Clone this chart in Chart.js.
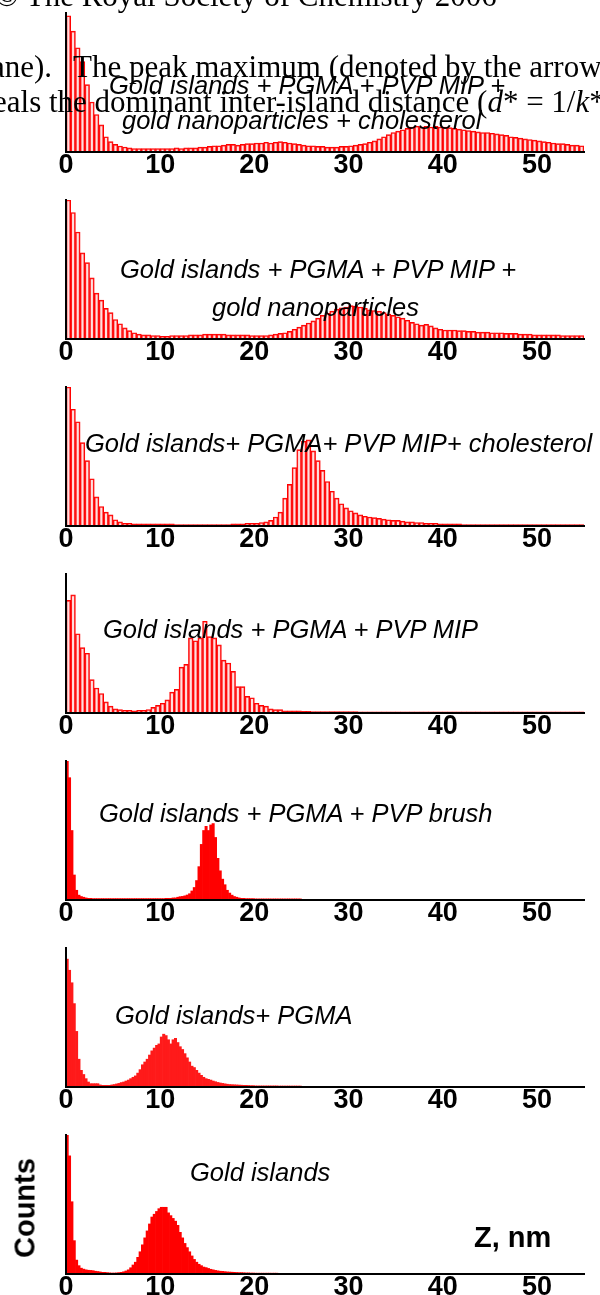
<!DOCTYPE html>
<html>
<head>
<meta charset="utf-8">
<script src="https://cdn.jsdelivr.net/npm/chart.js@4.4.1/dist/chart.umd.min.js"></script>
<style>
  body { margin: 0; background: #fff; }
  #page { position: relative; width: 600px; height: 1295px; overflow: hidden; background: #fff; }
  canvas { position: absolute; left: 0; }
  .txt { position: absolute; white-space: nowrap; color: #000; }
  .serif { font-family: "Liberation Serif", "Times New Roman", serif; font-size: 31px; line-height: 31px; }
  .label { font-family: "Liberation Sans", Arial, sans-serif; font-style: italic; font-size: 25.5px; line-height: 25.5px; }
  .axis { font-family: "Liberation Sans", Arial, sans-serif; font-weight: bold; font-size: 29px; line-height: 29px; }
</style>
</head>
<body>
<div id="page">
  <div class="txt serif" style="left:-5px; top:-20px;">© The Royal Society of Chemistry 2006</div>
  <div class="txt serif" style="left:-9px; top:51px;">ane).</div>
  <div class="txt serif" style="left:73px; top:51px;">The peak maximum (denoted by the arrow</div>
  <div class="txt serif" style="left:-7px; top:86px;">eals the dominant inter-island distance (<i>d</i>* = 1/<i>k</i>*</div>
</div>
<script>
// histogram bins, nm
const coarseBin = 0.5;
const fineBin = 0.25;
const xTicks = [0, 10, 20, 30, 40, 50];

// Gold islands + PGMA + PVP MIP + gold nanoparticles + cholesterol (0.5 nm bins, 0-55)
const countsMipNpChol = [
  98, 87, 75, 65, 48.5, 36, 27, 19.5, 11, 7.5,
  5.5, 4.3, 3.6, 3, 2.5, 2.5, 2.5, 2.5, 2.5, 2.5,
  2.5, 2.5, 2.5, 3, 2.5, 3, 3, 3, 3.5, 3.5,
  4, 4.5, 4.5, 5, 5.5, 5.5, 5, 5.5, 6, 6,
  6.5, 6.5, 7, 6.5, 7, 7.5, 7, 6.5, 6, 5.5,
  5, 4.5, 4.5, 4, 4, 3.5, 3.5, 3.5, 4, 4,
  4.5, 5, 5.5, 6, 7, 8, 9.5, 11, 12.5, 14,
  15, 16, 17, 18, 18.5, 18, 18.5, 18, 18.5, 18,
  18, 17.5, 17, 16.5, 16, 15.5, 15, 14.5, 14, 14,
  13.5, 13, 12.5, 12, 11, 10.5, 10, 9.5, 9, 8.5,
  8, 7.5, 7, 6.5, 6, 6, 5.5, 5, 5, 4.5
];
// Gold islands + PGMA + PVP MIP + gold nanoparticles
const countsMipNp = [
  100, 91, 77, 62, 55, 44, 33, 28, 22, 19,
  14, 11, 8, 6, 4.5, 3.5, 3, 3, 2.5, 2.5,
  2, 2, 2.5, 2.5, 2.5, 2.5, 3, 3, 3, 3.5,
  3.5, 3.5, 3.5, 3.5, 3, 3, 3, 3, 3, 2.5,
  2.5, 2.5, 2.5, 3, 3.5, 4, 4.5, 5.5, 7, 8.5,
  10, 11.5, 13, 15, 17, 18.5, 20, 21.5, 22.5, 23,
  24, 23.5, 23, 22, 21, 20.5, 20, 19, 18, 17,
  16, 15, 13.5, 12, 11, 10, 10.5, 9.5, 8, 7,
  6.5, 6.5, 6.5, 6, 6, 5.5, 5.5, 5, 5, 5,
  4.5, 4.5, 4.5, 4, 4, 4, 3.5, 3.5, 3.5, 3,
  3, 3, 3, 3, 3, 2.5, 2.5, 2.5, 2.5, 2.5
];
// Gold islands + PGMA + PVP MIP + cholesterol
const countsMipChol = [
  100, 84, 75, 60, 47, 34, 21, 14, 10, 8,
  4.5, 3, 2, 2, 1.5, 1.5, 1.5, 1.5, 1.5, 1.5,
  1.5, 1.5, 1.5, 1, 1, 1, 1, 1, 1, 1,
  1, 1, 1, 1, 1, 1.5, 1.5, 1.5, 2, 2,
  2, 2.5, 3, 4, 6.5, 10, 20, 30, 42, 55,
  61, 62, 54, 47, 40, 32, 25, 20, 16, 13,
  11, 9.5, 8, 7, 6.5, 6, 5.5, 5, 4.5, 4,
  4, 3.5, 3, 3, 2.5, 2.5, 2, 2, 2, 1.5,
  1.5, 1.5, 1.5, 1.5, 1, 1, 1, 1, 1, 1,
  1, 1, 1, 1, 1, 1, 1, 1, 1, 1,
  1, 1, 1, 1, 1, 1, 1, 1, 1, 1
];
// Gold islands + PGMA + PVP MIP
const countsMip = [
  81, 85, 57, 47, 43, 24, 18, 14, 8, 5,
  3, 2.4, 2, 2, 1.5, 2, 2, 2.5, 4, 5.5,
  7, 9.5, 15, 17, 33, 35, 54, 52, 54, 66,
  55, 54, 49, 38, 36, 30, 19, 19, 12, 11,
  7, 5.5, 5, 3, 2.4, 2.4, 1.5, 1.5, 1.5, 1.5,
  1.2, 1.2, 1, 1, 1, 1, 1, 1, 1, 1,
  1, 1, 0.8, 0.8, 0.8, 0.8, 0.8, 0.8, 0.8, 0.8,
  0.8, 0.8, 0.8, 0.8, 0.8, 0.8, 0.8, 0.8, 0.8, 0.8,
  0.8, 0.8, 0.8, 0.8, 0.8, 0.8, 0.8, 0.8, 0.8, 0.8,
  0.8, 0.8, 0.8, 0.8, 0.8, 0.8, 0.8, 0.8, 0.8, 0.8,
  0.8, 0.8, 0.8, 0.8, 0.8, 0.8, 0.8, 0.8, 0.8, 0.8
];
// Gold islands + PGMA + PVP brush (0.25 nm bins, 0-25)
const countsBrush = [
  100, 88, 50, 18, 7, 3.5, 2.5, 2, 1.5, 1.2,
  1.2, 1, 1, 1, 1, 1, 1, 1, 1, 1,
  1, 1, 1, 1, 1, 1, 1, 1, 1, 1,
  1, 1, 1, 1, 1, 1, 1, 1, 1, 1,
  1, 1, 1.2, 1.2, 1.2, 1.5, 1.5, 2, 2.4, 2.6,
  3, 3.6, 4.5, 6.5, 9, 14, 24, 40, 50, 53,
  50, 54, 55, 45, 30, 21, 15, 11, 7, 5,
  3.5, 2.5, 2, 1.5, 1.2, 1.2, 1, 1, 1, 1,
  0.8, 0.8, 0.8, 0.8, 0.8, 0.8, 0.8, 0.8, 0.8, 0.8,
  0.8, 0.8, 0.8, 0.8, 0.8, 0.8, 0.8, 0.8, 0.8, 0.8
];
// Gold islands + PGMA
const countsPgma = [
  92, 84, 75, 60, 40, 20, 12, 9, 6, 3.6,
  2.4, 2.4, 2.4, 2.4, 1.5, 1.2, 1.2, 1.2, 1.2, 1.5,
  1.8, 2.2, 2.6, 3.2, 3.6, 4.3, 5, 6, 7, 8,
  10, 12.5, 16, 18, 20, 23, 26, 28, 30, 31,
  36, 38, 37, 34, 31, 34, 35, 32, 29, 27,
  24, 21, 18, 15, 14, 12, 10, 8.4, 7, 6,
  5.5, 5, 4.3, 3.8, 3.3, 2.9, 2.6, 2.3, 2, 1.8,
  1.7, 1.6, 1.5, 1.4, 1.3, 1.2, 1.2, 1.1, 1, 1,
  0.8, 0.8, 0.8, 0.8, 0.8, 0.8, 0.8, 0.8, 0.8, 0.8,
  0.7, 0.7, 0.7, 0.7, 0.7, 0.7, 0.7, 0.7, 0.7, 0.7
];
// Gold islands
const countsIslands = [
  100, 85, 52, 24, 10, 6, 4.2, 3.5, 3, 2.7,
  2.6, 2.4, 2, 1.8, 1.5, 1.2, 1.2, 1, 0.8, 0.7,
  0.7, 0.8, 1, 1.2, 1.6, 2.2, 3, 4.5, 6.5, 8.5,
  12, 16, 21, 26, 31, 36, 41, 43, 45, 47,
  48, 48, 48, 44, 42, 40, 38, 35, 30, 26,
  22, 19, 16, 13, 10.5, 8.5, 7, 6, 5, 4.6,
  4, 3.4, 3, 2.6, 2.3, 2, 1.9, 1.7, 1.5, 1.4,
  1.3, 1.2, 1.1, 1, 1, 0.9, 0.8, 0.8, 0.7, 0.7,
  0.6, 0.6, 0.6, 0.6, 0.6, 0.6, 0.6, 0.6, 0.6, 0.6,
  0.5, 0.5, 0.5, 0.5, 0.5, 0.5, 0.5, 0.5, 0.5, 0.5
];

const panelLabels = [
  ['Gold islands + PGMA + PVP MIP +', 'gold nanoparticles + cholesterol'],
  ['Gold islands + PGMA + PVP MIP +', 'gold nanoparticles'],
  ['Gold islands+ PGMA+ PVP MIP+ cholesterol'],
  ['Gold islands + PGMA + PVP MIP'],
  ['Gold islands + PGMA + PVP brush'],
  ['Gold islands+ PGMA'],
  ['Gold islands']
];

const outline = { backgroundColor: 'rgba(255,150,150,0.3)', borderColor: '#ff0000', borderWidth: 1 };
const solid = { backgroundColor: '#ff0000', borderColor: '#ff0000', borderWidth: 0 };

const panels = [
  { counts: countsMipNpChol, bin: coarseBin, look: outline, label: [[109, 95], [122, 130]] },
  { counts: countsMipNp, bin: coarseBin, look: outline, label: [[120, 279], [212, 317]] },
  { counts: countsMipChol, bin: coarseBin, look: outline, label: [[85, 453]] },
  { counts: countsMip, bin: coarseBin, look: outline, label: [[103, 639]] },
  { counts: countsBrush, bin: fineBin, look: solid, label: [[99, 823]] },
  { counts: countsPgma, bin: fineBin, look: { backgroundColor: '#ff1a1a', borderColor: '#ff0000', borderWidth: 0 }, label: [[115, 1025]] },
  { counts: countsIslands, bin: fineBin, look: solid, label: [[190, 1182]] }
];

const page = document.getElementById('page');
const firstBaseline = 152;
const panelStep = 187;
const labelFont = { family: '"Liberation Sans", Arial, sans-serif', size: 27, weight: 'bold', lineHeight: 1 };

panels.forEach((p, i) => {
    const canvas = document.createElement('canvas');
    canvas.width = 600;
    canvas.height = 185;
    canvas.style.top = (firstBaseline + i * panelStep - 150) + 'px';
    page.insertBefore(canvas, page.firstChild);

    new Chart(canvas.getContext('2d'), {
        type: 'bar',
        data: {
            datasets: [{
                data: p.counts.map((v, k) => ({ x: (k + 0.5) * p.bin, y: v })),
                backgroundColor: p.look.backgroundColor,
                borderColor: p.look.borderColor,
                borderWidth: p.look.borderWidth,
                borderSkipped: 'start',
                barPercentage: 1,
                categoryPercentage: 1
            }]
        },
        options: {
            responsive: false,
            animation: false,
            events: [],
            layout: { padding: { top: 11, right: 16, left: 0, bottom: 0 } },
            plugins: { legend: { display: false }, tooltip: { enabled: false } },
            scales: {
                x: {
                    type: 'linear',
                    min: 0,
                    max: 55,
                    offset: false,
                    grid: { offset: false, drawOnChartArea: false, drawTicks: false },
                    border: { color: '#000', width: 2, z: 1 },
                    afterBuildTicks: scale => { scale.ticks = xTicks.map(v => ({ value: v })); },
                    ticks: { autoSkip: false, maxRotation: 0, padding: 0, color: '#000', font: labelFont },
                    afterFit: scale => { scale.height = 35; }
                },
                y: {
                    min: 0,
                    max: 100,
                    grid: { drawOnChartArea: false, drawTicks: false },
                    border: { color: '#000', width: 2, z: 1 },
                    ticks: { display: false },
                    afterFit: scale => { scale.width = 66; }
                }
            }
        }
    });

    // annotation text for this panel
    p.label.forEach(([left, baseline], j) => {
        const div = document.createElement('div');
        div.className = 'txt label';
        div.style.left = left + 'px';
        div.style.top = (baseline - 21.6) + 'px';
        div.textContent = panelLabels[i][j];
        page.appendChild(div);
    });
});

const zLabel = document.createElement('div');
zLabel.className = 'txt axis';
zLabel.style.left = '474px';
zLabel.style.top = (1247 - 24.5) + 'px';
zLabel.textContent = 'Z, nm';
page.appendChild(zLabel);

const countsLabel = document.createElement('div');
countsLabel.className = 'txt axis';
countsLabel.style.left = '25px';
countsLabel.style.top = '1208px';
countsLabel.style.transform = 'translate(-50%, -50%) rotate(-90deg)';
countsLabel.textContent = 'Counts';
page.appendChild(countsLabel);

// journal text sits above the figure
page.querySelectorAll('.serif').forEach(el => page.appendChild(el));
</script>
</body>
</html>
